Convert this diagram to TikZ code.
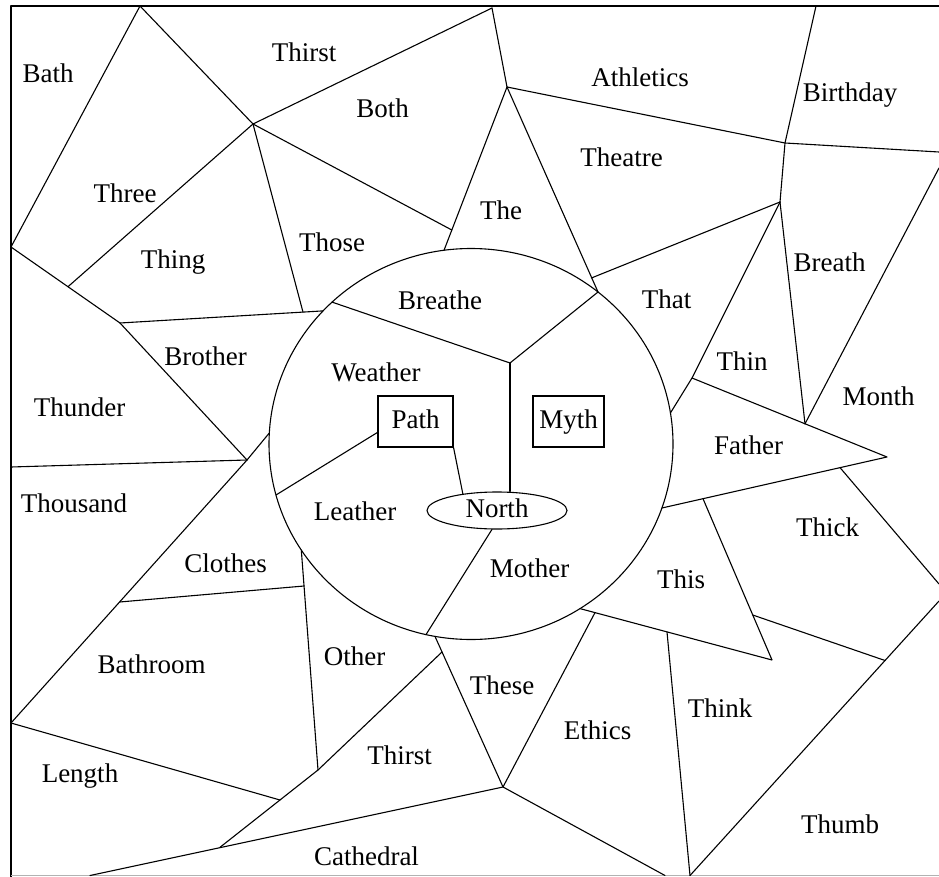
\documentclass[tikz,border=0pt]{standalone}
\usepackage{fontspec}
\setmainfont{Liberation Serif}
\usetikzlibrary{shapes.geometric,calc}
\begin{document}
\begin{tikzpicture}[x=1pt,y=-1pt,
  edge/.style={line width=1.1pt,line cap=round,line join=round},
  lbl/.style={anchor=base,inner sep=0pt,font=\fontsize{27}{30}\selectfont},
  boxnode/.style={draw,line width=1.1pt,inner sep=0pt,minimum height=51pt,text height=18pt,text depth=5pt,font=\fontsize{27}{30}\selectfont},
]
\useasboundingbox (0,0) rectangle (939,877);
\fill[white] (0,0) rectangle (939,877);

% frame
\coordinate (fTL) at (11,6);
\coordinate (fTR) at (939,6);
\coordinate (fBL) at (11,877);
\coordinate (bBL) at (11,875.5);
\coordinate (bBR) at (939,875.5);
\draw[edge] (fTR) -- (fTL) -- (fBL);
\draw[gray!60,line width=0.8pt] (bBL) -- (bBR);

% coordinates (pixel positions)
\coordinate (A) at (140,6);
\coordinate (B) at (11,247);
\coordinate (C) at (253,124);
\coordinate (TB) at (492,8);
\coordinate (T1) at (507,87);
\coordinate (D) at (451.8,230);
\coordinate (Tl) at (444,250.3);
\coordinate (Tr) at (598,292);
\coordinate (Tt) at (591.4,278);
\coordinate (K1) at (785,143);
\coordinate (Bt) at (816,6);
\coordinate (Re1) at (939,152);
\coordinate (K2) at (780,202);
\coordinate (Mr) at (939,168);
\coordinate (K3) at (805,423.8);
\coordinate (F1) at (692,378);
\coordinate (Fc) at (670.4,413);
\coordinate (Ftip) at (887,457);
\coordinate (Fl) at (661.9,508);
\coordinate (Fs) at (703,498.7);
\coordinate (Fk) at (840,467.6);
\coordinate (Rk) at (939,584);
\coordinate (Rt) at (939,601);
\coordinate (Thb) at (690,875.5);
\coordinate (Tk1) at (752.7,615);
\coordinate (Tk2) at (885,660.5);
\coordinate (Z) at (772,660);
\coordinate (Tl2) at (580,608.6);
\coordinate (Xr) at (595,612.6);
\coordinate (Tn) at (667,632);
\coordinate (V) at (503,787);
\coordinate (Eb) at (665,875.5);
\coordinate (Cl) at (90,875.5);
\coordinate (S) at (220,847.3);
\coordinate (R) at (318,770);
\coordinate (U) at (442,652);
\coordinate (Tsl) at (435,636.4);
\coordinate (Me) at (426,634.6);
\coordinate (Ot) at (301.3,550);
\coordinate (Q) at (304,586);
\coordinate (P) at (119.6,602);
\coordinate (H) at (11,723);
\coordinate (W) at (280,800);
\coordinate (G) at (247,460);
\coordinate (Gend) at (269.3,433);
\coordinate (E) at (120,323);
\coordinate (F) at (68,286.7);
\coordinate (J) at (303,312.1);
\coordinate (Eend) at (323,310.9);
\coordinate (Th1) at (11,467);
\coordinate (Brl) at (332,302.1);
\coordinate (Y) at (510,363);
\coordinate (Lw) at (276,495);

% central circle and inner nodes
\node[draw,edge,ellipse,minimum width=404pt,minimum height=391pt,inner sep=0pt] (ring) at (471,444) {};
\node[boxnode,minimum width=75pt] (path) at (415.5,421.5) {Path};
\node[boxnode,minimum width=71pt] (myth) at (568.5,421.5) {Myth};
\node[draw,edge,ellipse,minimum width=140pt,minimum height=37pt,inner sep=0pt,text height=18pt,text depth=5pt,font=\fontsize{27}{30}\selectfont] (north) at (497,510.5) {North\hspace{28pt}};

% inner connectors
\draw[edge] ($(path.west)!0.42!(path.south west)$) -- (Lw);
\draw[edge] (path.south east) -- (north.154);
\draw[edge] (Y) -- (Y |- north.north);
\draw[edge] (north.255) -- (Me);
\draw[edge] (Brl) -- (Y) -- (Tr);

% region boundaries
\draw[edge] (A) -- (B);
\draw[edge] (A) -- (C) -- (TB);
\draw[edge] (C) -- (D);
\draw[edge] (C) -- (F);
\draw[edge] (C) -- (J);
\draw[edge] (B) -- (E) -- (G);
\draw[edge] (E) -- (Eend);
\draw[edge] (Th1) -- (G);
\draw[edge] (G) -- (Gend);
\draw[edge] (G) -- (H);
\draw[edge] (P) -- (Q);
\draw[edge] (Ot) -- (R) -- (S);
\draw[edge] (U) -- (R);
\draw[edge] (H) -- (W);
\draw[edge] (Cl) -- (V) -- (Eb);
\draw[edge] (Tsl) -- (V) -- (Xr);
\draw[edge] (Tl2) -- (Z) -- (Fs);
\draw[edge] (Fl) -- (Ftip) -- (F1);
\draw[edge] (K2) -- (F1) -- (Fc);
\draw[edge] (K2) -- (K3);
\draw[edge] (Mr) -- (K3);
\draw[edge] (Fk) -- (Rk);
\draw[edge] (Rt) -- (Thb);
\draw[edge] (Tk1) -- (Tk2);
\draw[edge] (Tn) -- (Thb);
\draw[edge] (TB) -- (T1);
\draw[edge] (T1) -- (Tl);
\draw[edge] (T1) -- (Tr);
\draw[edge] (T1) -- (K1) -- (Re1);
\draw[edge] (Bt) -- (K1) -- (K2);
\draw[edge] (Tt) -- (K2);

% labels
\node[lbl] (lBath) at (48,83) {Bath};
\node[lbl] (lThirstA) at (304,62) {Thirst};
\node[lbl] (lBoth) at (382.5,118) {Both};
\node[lbl] (lAthletics) at (640,87) {Athletics};
\node[lbl] (lBirthday) at (850,102) {Birthday};
\node[lbl] (lThree) at (125,203) {Three};
\node[lbl] (lThing) at (173,269) {Thing};
\node[lbl] (lThose) at (332,252) {Those};
\node[lbl] (lThe) at (501,220) {The};
\node[lbl] (lTheatre) at (621.5,167) {Theatre};
\node[lbl] (lBreath) at (829.5,272) {Breath};
\node[lbl] (lBreathe) at (440,309) {Breathe};
\node[lbl] (lThat) at (666.5,308) {That};
\node[lbl] (lThin) at (742,370) {Thin};
\node[lbl] (lMonth) at (878.5,405) {Month};
\node[lbl] (lFather) at (748.5,454) {Father};
\node[lbl] (lThick) at (827.5,536) {Thick};
\node[lbl] (lThis) at (681,588) {This};
\node[lbl] (lBrother) at (205.5,365) {Brother};
\node[lbl] (lWeather) at (376,381) {Weather};
\node[lbl] (lThunder) at (79.5,416) {Thunder};
\node[lbl] (lThousand) at (74,512) {Thousand};
\node[lbl] (lLeather) at (355,520) {Leather};
\node[lbl] (lMother) at (529.5,577) {Mother};
\node[lbl] (lClothes) at (225.5,572) {Clothes};
\node[lbl] (lOther) at (354.5,665) {Other};
\node[lbl] (lBathroom) at (151.5,673) {Bathroom};
\node[lbl] (lThese) at (502,694) {These};
\node[lbl] (lThirstB) at (399.5,764) {Thirst};
\node[lbl] (lEthics) at (597.5,739) {Ethics};
\node[lbl] (lThink) at (720,717) {Think};
\node[lbl] (lLength) at (80,782) {Length};
\node[lbl] (lThumb) at (840,833) {Thumb};
\node[lbl] (lCathedral) at (366.5,865) {Cathedral};
\end{tikzpicture}
\end{document}
